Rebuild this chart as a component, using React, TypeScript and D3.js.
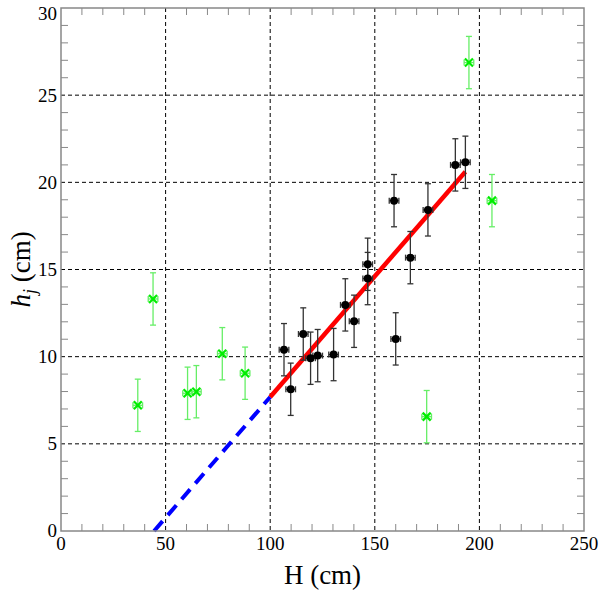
import React from "react";
import * as d3 from "d3";

// Fitted points (black)
const fitH = [106.6, 109.8, 115.8, 119.3, 122.7, 130.3, 135.9, 140.1, 146.6, 146.6, 159.2, 160.0, 167.0, 175.4, 188.5, 193.3];
const fitHj = [10.4, 8.13, 11.3, 9.91, 10.06, 10.12, 12.97, 12.03, 14.48, 15.3, 18.95, 11.02, 15.68, 18.42, 21.0, 21.15];
// Excluded points (green)
const outH = [36.7, 44.0, 60.5, 64.7, 77.1, 88.0, 174.8, 195.0, 206.0];
const outHj = [7.21, 13.31, 7.9, 7.99, 10.17, 9.05, 6.56, 26.87, 18.95];
const errH = 2.3;
const errHj = 1.5;
// Linear fit h = slope*H + intercept
const fitSlope = 0.1385;
const fitIntercept = -6.163;
const fitRange = [100, 193.3];
const extrapRange = [44.5, 100];

const xTicks = [0, 50, 100, 150, 200, 250];
const yTicks = [0, 5, 10, 15, 20, 25, 30];

export default function App() {
  const W = 599, H = 591;
  const L = 61, R = 584, T = 8, B = 531;
  const x = d3.scaleLinear().domain([0, 250]).range([L, R]);
  const y = d3.scaleLinear().domain([0, 30]).range([B, T]);
  const xMinor = d3.range(0, 251, 10).filter((v) => v % 50 !== 0);
  const yMinor = d3.range(0, 31, 1).filter((v) => v % 5 !== 0);
  const frame = "#888";
  const fontStyle = { fontFamily: "Liberation Serif, Tinos, 'Times New Roman', DejaVu Serif, serif" };
  const line = d3.line<number>().x((h) => x(h)).y((h) => y(fitSlope * h + fitIntercept));

  const errBars = (hx: number, hy: number, color: string, key: string) => (
    <g key={key} stroke={color} strokeWidth={1.3} fill="none">
      <line x1={x(hx)} x2={x(hx)} y1={y(hy - errHj)} y2={y(hy + errHj)} />
      <line x1={x(hx) - 3} x2={x(hx) + 3} y1={y(hy - errHj)} y2={y(hy - errHj)} />
      <line x1={x(hx) - 3} x2={x(hx) + 3} y1={y(hy + errHj)} y2={y(hy + errHj)} />
      <line x1={x(hx - errH)} x2={x(hx + errH)} y1={y(hy)} y2={y(hy)} />
      <line x1={x(hx - errH)} x2={x(hx - errH)} y1={y(hy) - 3} y2={y(hy) + 3} />
      <line x1={x(hx + errH)} x2={x(hx + errH)} y1={y(hy) - 3} y2={y(hy) + 3} />
    </g>
  );

  return (
    <svg width={W} height={H} style={{ position: "absolute", left: 0, top: 0 }}>
      <rect x={0} y={0} width={W} height={H} fill="#fff" />
      {/* grid */}
      <g stroke="#000" strokeWidth={1} strokeDasharray="4,3">
        {xTicks.filter((v) => v > 0 && v < 250).map((v) => (
          <line key={"gx" + v} x1={x(v)} x2={x(v)} y1={T} y2={B} />
        ))}
        {yTicks.filter((v) => v > 0 && v < 30).map((v) => (
          <line key={"gy" + v} x1={L} x2={R} y1={y(v)} y2={y(v)} />
        ))}
      </g>
      {/* minor ticks */}
      <g stroke={frame} strokeWidth={1}>
        {xMinor.map((v) => (
          <g key={"mx" + v}>
            <line x1={x(v)} x2={x(v)} y1={B} y2={B - 7} />
            <line x1={x(v)} x2={x(v)} y1={T} y2={T + 7} />
          </g>
        ))}
        {yMinor.map((v) => (
          <g key={"my" + v}>
            <line x1={L} x2={L + 7} y1={y(v)} y2={y(v)} />
            <line x1={R} x2={R - 7} y1={y(v)} y2={y(v)} />
          </g>
        ))}
      </g>
      {/* fit lines */}
      <path d={line(extrapRange) || ""} stroke="#0000ff" strokeWidth={4} strokeDasharray="13,8" fill="none" />
      <path d={line(fitRange) || ""} stroke="#ff0000" strokeWidth={4.5} fill="none" />
      {/* green points */}
      {outH.map((h, i) => errBars(h, outHj[i], "#66ee66", "ge" + i))}
      {outH.map((h, i) => (
        <g key={"gm" + i} stroke="#00ee00" strokeWidth={2.2}>
          <line x1={x(h) - 4} x2={x(h) + 4} y1={y(outHj[i]) - 4} y2={y(outHj[i]) + 4} />
          <line x1={x(h) - 4} x2={x(h) + 4} y1={y(outHj[i]) + 4} y2={y(outHj[i]) - 4} />
        </g>
      ))}
      {/* black points */}
      {fitH.map((h, i) => errBars(h, fitHj[i], "#333", "be" + i))}
      {fitH.map((h, i) => (
        <circle key={"bp" + i} cx={x(h)} cy={y(fitHj[i])} r={4} fill="#000" />
      ))}
      {/* frame */}
      <rect x={L} y={T} width={R - L} height={B - T} fill="none" stroke={frame} strokeWidth={1.5} />
      {/* tick labels */}
      <g style={fontStyle} fontSize={19} fill="#000">
        {xTicks.map((v) => (
          <text key={"tx" + v} x={x(v)} y={550} textAnchor="middle">{v}</text>
        ))}
        {yTicks.map((v) => (
          <text key={"ty" + v} x={57} y={Math.max(y(v), 14)} textAnchor="end" dy="0.34em">{v}</text>
        ))}
      </g>
      <text x={(L + R) / 2} y={584} textAnchor="middle" style={fontStyle} fontSize={27}>H (cm)</text>
      <text transform={`translate(30, ${(T + B) / 2}) rotate(-90)`} textAnchor="middle" style={fontStyle} fontSize={27}>
        <tspan fontStyle="italic">h</tspan>
        <tspan fontStyle="italic" fontSize={18} dy={6}>j</tspan>
        <tspan dy={-6}> (cm)</tspan>
      </text>
    </svg>
  );
}
